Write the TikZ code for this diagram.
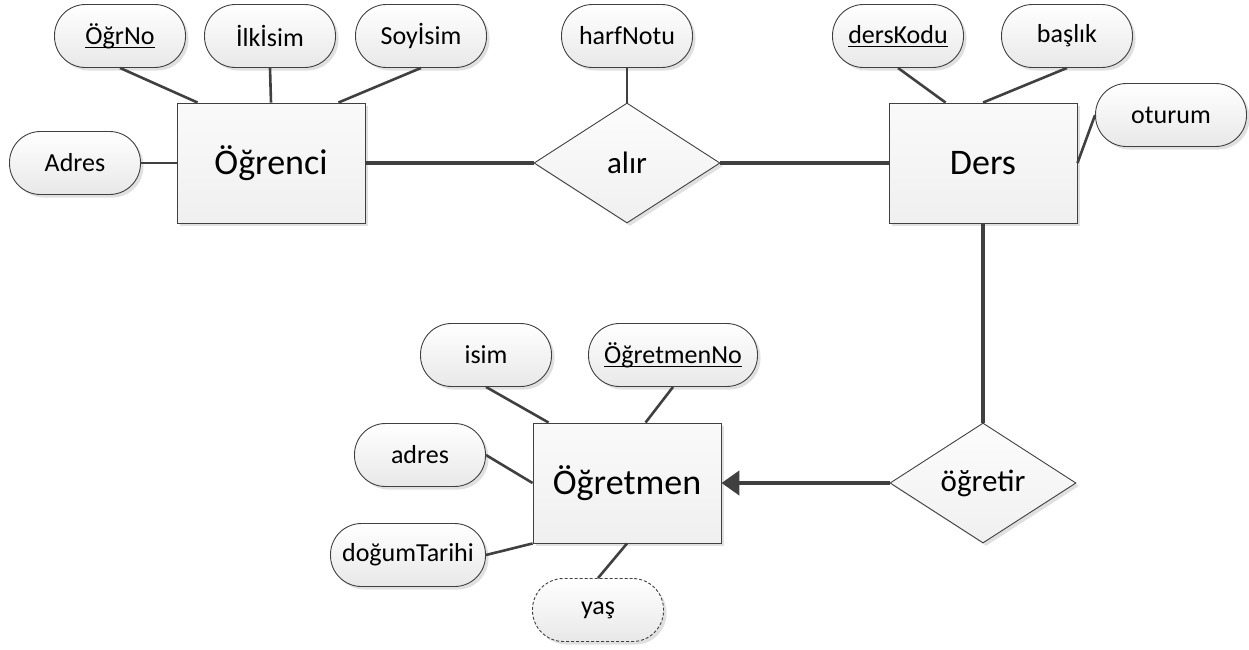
\documentclass[tikz,border=0pt]{standalone}
\usepackage{fontspec}
\setmainfont{Carlito}
\usetikzlibrary{shapes.geometric,shadows,arrows.meta}
\newcommand{\anahtar}[1]{\underline{\raisebox{0pt}[\height][1pt]{#1}}}

\begin{document}
\begin{tikzpicture}[x=1pt, y=-1pt,
		golge/.style={drop shadow={shadow xshift=3pt, shadow yshift=-3pt, fill=black!12, opacity=1}},
		varlik/.style={rectangle, draw=black!75, line width=0.9pt, minimum width=188pt, minimum height=120pt, top color=gray!4, bottom color=gray!12, golge, font=\fontsize{36}{40}\selectfont},
		iliski/.style={diamond, draw=black!75, line width=0.9pt, minimum width=186pt, minimum height=120pt, inner sep=0pt, aspect=1.55, top color=gray!2, bottom color=gray!12, golge, font=\fontsize{31}{36}\selectfont},
		nitelik/.style={rectangle, rounded corners=31pt, draw=black!75, line width=0.9pt, minimum width=131pt, minimum height=63pt, top color=white, bottom color=gray!18, golge, font=\fontsize{26}{30}\selectfont},
		turetilmis/.style={nitelik, dash pattern=on 3pt off 2pt},
		bag/.style={draw=black!75, line width=2.6pt},
		kalinbag/.style={draw=black!75, line width=4.5pt}]
		\useasboundingbox ( 0, 0 ) rectangle ( 1249, 649 );

		% varlıklar
		\node [varlik] (ogrenci) at ( 271, 163 ) {Öğrenci};
		\node [varlik] (ders) at ( 983, 163 ) {Ders};
		\node [varlik] (ogretmen) at ( 627, 483 ) {Öğretmen};

		% ilişkiler
		\node [iliski] (alir) at ( 627, 163 ) {alır};
		\node [iliski] (ogretir) at ( 983, 483 ) {öğretir};

		% Öğrenci nitelikleri
		\node [nitelik] (ogrno) at ( 120, 36 ) {\anahtar{ÖğrNo}};
		\node [nitelik] (ilkisim) at ( 270, 36 ) {İlkİsim};
		\node [nitelik] (soyisim) at ( 421, 36 ) {Soyİsim};
		\node [nitelik] (adres1) at ( 75, 163 ) {Adres};

		% alır niteliği
		\node [nitelik] (harfnotu) at ( 627, 36 ) {harfNotu};

		% Ders nitelikleri
		\node [nitelik] (derskodu) at ( 898, 36 ) {\anahtar{dersKodu}};
		\node [nitelik] (baslik) at ( 1067, 36 ) {başlık};
		\node [nitelik, minimum width=151pt] (oturum) at ( 1171, 115 ) {oturum};

		% Öğretmen nitelikleri
		\node [nitelik] (isim) at ( 486, 355 ) {isim};
		\node [nitelik, minimum width=169pt] (ogretmenno) at ( 673, 355 ) {\anahtar{ÖğretmenNo}};
		\node [nitelik] (adres2) at ( 420, 455 ) {adres};
		\node [nitelik, minimum width=155pt] (dogum) at ( 408, 555 ) {doğumTarihi};
		\node [turetilmis] (yas) at ( 598, 610 ) {yaş};

		% bağlantılar
		\draw [bag] (ogrno.south) -- ([xshift=21pt]ogrenci.north west);
		\draw [bag] (ilkisim.south) -- (ogrenci.north);
		\draw [bag] (soyisim.south) -- ([xshift=-27pt]ogrenci.north east);
		\draw [bag] (adres1.east) -- (ogrenci.west);
		\draw [kalinbag] (ogrenci.east) -- (alir.west);
		\draw [bag] (harfnotu.south) -- (alir.north);
		\draw [kalinbag] (alir.east) -- (ders.west);
		\draw [bag] (derskodu.south) -- ([xshift=57pt]ders.north west);
		\draw [bag] (baslik.south) -- (ders.north);
		\draw [bag] (oturum.west) -- (ders.east);
		\draw [kalinbag] (ders.south) -- (ogretir.north);
		\draw [kalinbag, -{Triangle[length=18pt, width=24pt]}] (ogretir.west) -- (ogretmen.east);
		\draw [bag] (isim.south) -- ([xshift=16pt]ogretmen.north west);
		\draw [bag] (ogretmenno.south) -- ([xshift=113pt]ogretmen.north west);
		\draw [bag] (adres2.east) -- (ogretmen.west);
		\draw [bag] (dogum.east) -- (ogretmen.south west);
		\draw [bag] (yas.north) -- (ogretmen.south);
	\end{tikzpicture}
\end{document}
